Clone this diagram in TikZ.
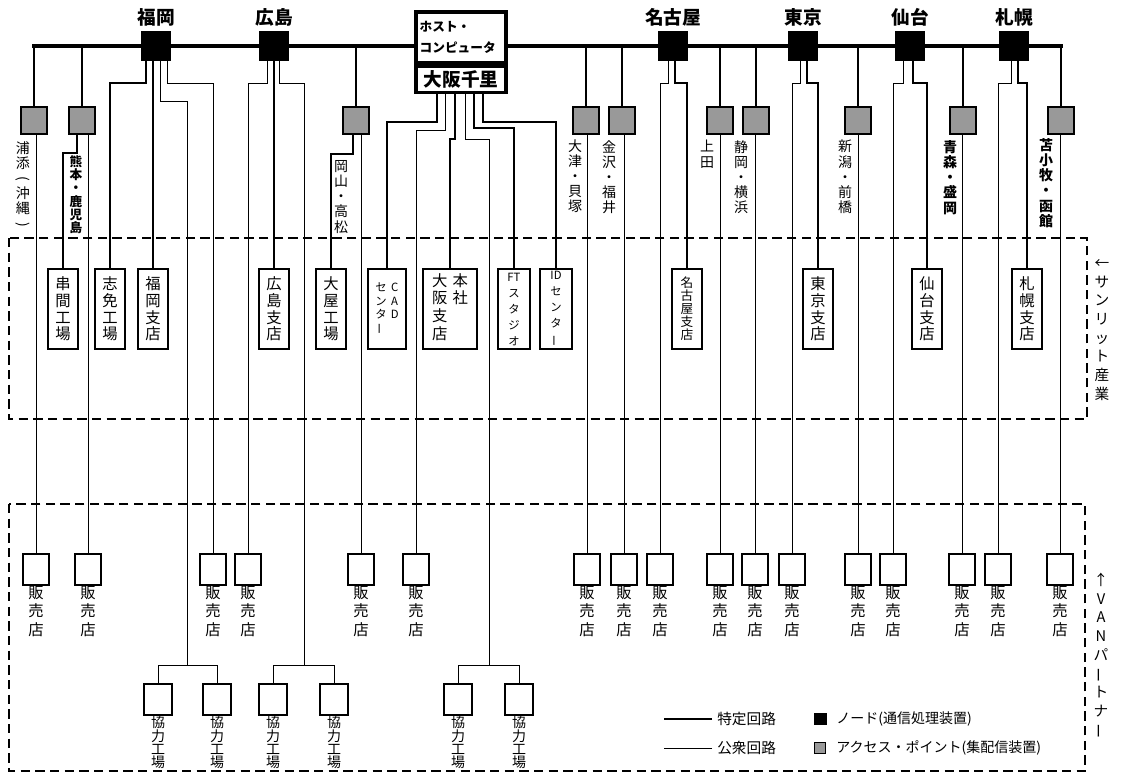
\documentclass[tikz,border=0pt]{standalone}
\usepackage{fontspec}
\usepackage{graphicx}
\setmainfont{Noto Sans CJK JP}
\usetikzlibrary{calc, backgrounds}
\newcommand{\tate}{\rotatebox[origin=c]{90}{ー}}
\newcommand{\tlp}{\rotatebox[origin=c]{-90}{(}}
\newcommand{\trp}{\rotatebox[origin=c]{-90}{)}}

\begin{document}
\begin{tikzpicture}[x=0.75pt, y=-0.75pt,
    bb/.style={line width=2.6pt, line cap=rect},
    ded/.style={line width=1.6pt},
    pub/.style={line width=0.75pt},
    nd/.style={fill=black, minimum size=22.5pt, inner sep=0pt, label distance=1pt},
    ap/.style={draw, line width=1.5pt, fill=black!40, minimum size=20pt, inner sep=0pt},
    hostbox/.style={draw, line width=2.6pt, fill=white, minimum width=67.5pt, inner sep=2pt},
    co/.style={draw, line width=1.5pt, fill=white, minimum width=22.5pt, minimum height=60pt,
      inner sep=1pt, align=center, font=\fontsize{11.5}{12.5}\selectfont},
    shop/.style={draw, line width=1.3pt, fill=white, minimum width=20pt, minimum height=23pt,
      inner sep=0pt, label distance=3pt},
    kf/.style={draw, line width=1.3pt, fill=white, minimum width=21pt, minimum height=23pt,
      inner sep=0pt, label distance=3pt},
    citylab/.style={font=\fontsize{14}{16}\selectfont\bfseries},
    shoplab/.style={align=center, inner sep=0pt, font=\fontsize{11.5}{14}\selectfont},
    kflab/.style={align=center, inner sep=0pt, font=\fontsize{10.5}{9.4}\selectfont},
    vl/.style={align=center, inner sep=0pt, anchor=north, font=\fontsize{10.5}{11.4}\selectfont},
    side/.style={align=center, inner sep=0pt, font=\fontsize{11}{14}\selectfont},
    leg/.style={inner sep=0pt, anchor=west, font=\fontsize{11}{13}\selectfont},
    dbox/.style={dash pattern=on 7pt off 4pt, line width=1.1pt}]
  \useasboundingbox (0,0) rectangle (1121,775);

  % nodes on the backbone
  \node[nd, label={[citylab]above:福岡}] (fk) at (156,46) {};
  \node[nd, label={[citylab]above:広島}] (hs) at (274,46) {};
  \node[nd, label={[citylab]above:名古屋}] (ng) at (673,46) {};
  \node[nd, label={[citylab]above:東京}] (tk) at (803,46) {};
  \node[nd, label={[citylab]above:仙台}] (sd) at (910,46) {};
  \node[nd, label={[citylab]above:札幌}] (sp) at (1014,46) {};
  \node[hostbox, minimum height=38pt, text width=62pt, align=left,
    font=\fontsize{9.5}{16}\selectfont\bfseries] (hostA) at (461,37.5) {ホスト・\\コンピュータ};
  \node[hostbox, minimum height=19.5pt, anchor=north,
    font=\fontsize{14}{16}\selectfont\bfseries] (hostB) at (hostA.south) {大阪千里};

  % access points
  \foreach \n/\x in {1/34,2/82,3/356,4/586,5/622,6/720,7/756,8/858,9/963,10/1061}
    \node[ap] (ap\n) at (\x,120.5) {};
  \node[vl] (lb1) at (23,141) {浦\\添\\\tlp\\沖\\縄\\\trp};
  \node[vl, font=\fontsize{9.5}{10}\selectfont\bfseries] (lb2) at (76,155) {熊\\本\\・\\鹿\\児\\島};
  \node[vl] (lb3) at (341,160) {岡\\山\\・\\高\\松};
  \node[vl] (lb4) at (575,139) {大\\津\\・\\貝\\塚};
  \node[vl] (lb5) at (609,140) {金\\沢\\・\\福\\井};
  \node[vl] (lb6) at (707,140) {上\\田};
  \node[vl] (lb7) at (741,140) {静\\岡\\・\\横\\浜};
  \node[vl] (lb8) at (845,140) {新\\潟\\・\\前\\橋};
  \node[vl, font=\fontsize{10.5}{11.4}\selectfont\bfseries] (lb9) at (950,140) {青\\森\\・\\盛\\岡};
  \node[vl, font=\fontsize{10.5}{11.4}\selectfont\bfseries] (lb10) at (1046,138) {苫\\小\\牧\\・\\函\\館};

  % sunlit offices
  \draw[dbox] (9,238) rectangle (1087,419);
  \node[co] (co1) at (63,309) {串\\間\\工\\場};
  \node[co] (co2) at (110,309) {志\\免\\工\\場};
  \node[co] (co3) at (153,309) {福\\岡\\支\\店};
  \node[co] (co4) at (274,309) {広\\島\\支\\店};
  \node[co] (co5) at (331,309) {大\\屋\\工\\場};
  \node[co, minimum width=28.5pt, font=\fontsize{8.5}{10}\selectfont] (co6) at (387,309)
    {\begin{tabular}{@{}c@{\hspace{3pt}}c@{}}セ&C\\ン&A\\タ&D\\\tate&\end{tabular}};
  \node[co, minimum width=40.5pt] (co7) at (450,309)
    {\begin{tabular}{@{}c@{\hspace{4pt}}c@{}}大&本\\阪&社\\支&\\店&\end{tabular}};
  \node[co, minimum width=24pt, font=\fontsize{8.5}{12}\selectfont] (co8) at (514,309) {FT\\ス\\タ\\ジ\\オ};
  \node[co, minimum width=24pt, font=\fontsize{8.5}{12}\selectfont] (co9) at (556,309) {ID\\セ\\ン\\タ\\\tate};
  \node[co, font=\fontsize{9.5}{9.8}\selectfont] (co10) at (687,309) {名\\古\\屋\\支\\店};
  \node[co] (co11) at (818,309) {東\\京\\支\\店};
  \node[co] (co12) at (927,309) {仙\\台\\支\\店};
  \node[co] (co13) at (1027,309) {札\\幌\\支\\店};
  \node[side] (sunlit) at (1102,330) {←\\サ\\ン\\リ\\ッ\\ト\\産\\業};

  % VAN partners
  \draw[dbox] (9,504) rectangle (1085,771);
  \foreach \n/\x in {1/36,2/88,3/213,4/248,5/361,6/416,7/587,8/624,9/660,10/720,
      11/755,12/792,13/858,14/893,15/962,16/998,17/1060}
    \node[shop, label={[shoplab]below:{販\\売\\店}}] (sh\n) at (\x,569.5) {};
  \foreach \n/\x in {1/158,2/217,3/273,4/334,5/458,6/519}
    \node[kf, label={[kflab]below:{協\\力\\工\\場}}] (kf\n) at (\x,699.5) {};
  \coordinate (j1) at (187,665);
  \coordinate (j2) at (304,665);
  \coordinate (j3) at (489,665);
  \node[side] (van) at (1101,656) {↑\\V\\A\\N\\パ\\\tate\\ト\\ナ\\\tate};

  % legend
  \node[leg] (tokutei) at (717,719) {特定回路};
  \node[leg] (koshu) at (717,748) {公衆回路};
  \node[nd, minimum size=9.5pt, anchor=west] (lgnd) at (814,719) {};
  \node[ap, minimum size=8.5pt, line width=0.8pt, anchor=west] (lgap) at (814,748) {};
  \node[leg, font=\fontsize{10.5}{13}\selectfont] (lgndt) at (836,719) {ノード(通信処理装置)};
  \node[leg, font=\fontsize{10.5}{13}\selectfont] (lgapt) at (836,748) {アクセス・ポイント(集配信装置)};

  \begin{scope}[on background layer]
    \draw[bb] (ap1.north |- fk) -- (ap10.north |- fk);
    \foreach \n in {1,...,10}
      \draw[ded] (ap\n.north) -- (ap\n.north |- fk);
    \foreach \a/\s in {1/1,2/2,3/5,4/7,5/8,6/10,7/11,8/13,9/15,10/17}
      \draw[pub] (sh\s.north |- ap\a.south) -- (sh\s.north);
    \draw[ded] ($(ap2.south)+(-5,0)$) -- ++(0,18) -| (co1.north);
    \draw[ded] ($(ap3.south)+(-3,0)$) -- ++(0,19) -| (co5.north);
    % Fukuoka, Hiroshima
    \draw[ded] ($(fk.south)+(-10,0)$) -- ++(0,22) -| (co2.north);
    \draw[ded] (co3.north |- fk.south) -- (co3.north);
    \draw[pub] ($(fk.south)+(4,0)$) -- ++(0,40) -| (j1);
    \draw[pub] ($(fk.south)+(11,0)$) -- ++(0,22) -| (sh3.north);
    \draw[pub] ($(hs.south)+(-7,0)$) -- ++(0,22) -| (sh4.north);
    \draw[ded] (co4.north |- hs.south) -- (co4.north);
    \draw[pub] ($(hs.south)+(5,0)$) -- ++(0,22) -| (j2);
    % host
    \draw[ded] ($(hostB.south)+(-24,0)$) -- ++(0,28) -| (co6.north);
    \draw[pub] ($(hostB.south)+(-16,0)$) -- ++(0,36) -| (sh6.north);
    \draw[ded] ($(hostB.south)+(-6,0)$) -- ++(0,45) -| (co7.north);
    \draw[pub] ($(hostB.south)+(4,0)$) -- ++(0,45) -| (j3);
    \draw[ded] ($(hostB.south)+(13,0)$) -- ++(0,34) -| (co8.north);
    \draw[ded] ($(hostB.south)+(22,0)$) -- ++(0,28) -| (co9.north);
    % eastern nodes
    \foreach \k/\pa/\pb/\sn/\cn in {ng/-5/2/9/10, tk/-3/4/12/11, sd/-7/3/14/12, sp/-3/4/16/13} {
      \draw[pub] ($(\k.south)+(\pa,0)$) -- ++(0,22) -| (sh\sn.north);
      \draw[ded] ($(\k.south)+(\pb,0)$) -- ++(0,22) -| (co\cn.north);
    }
    \foreach \j/\a/\b in {j1/kf1/kf2, j2/kf3/kf4, j3/kf5/kf6}
      \draw[pub] (\a.north) |- (\j) -| (\b.north);
    \draw[ded] ($(tokutei.west)+(-5,0)$) -- ++(-48,0);
    \draw[pub] ($(koshu.west)+(-5,0)$) -- ++(-48,0);
  \end{scope}
\end{tikzpicture}
\end{document}
